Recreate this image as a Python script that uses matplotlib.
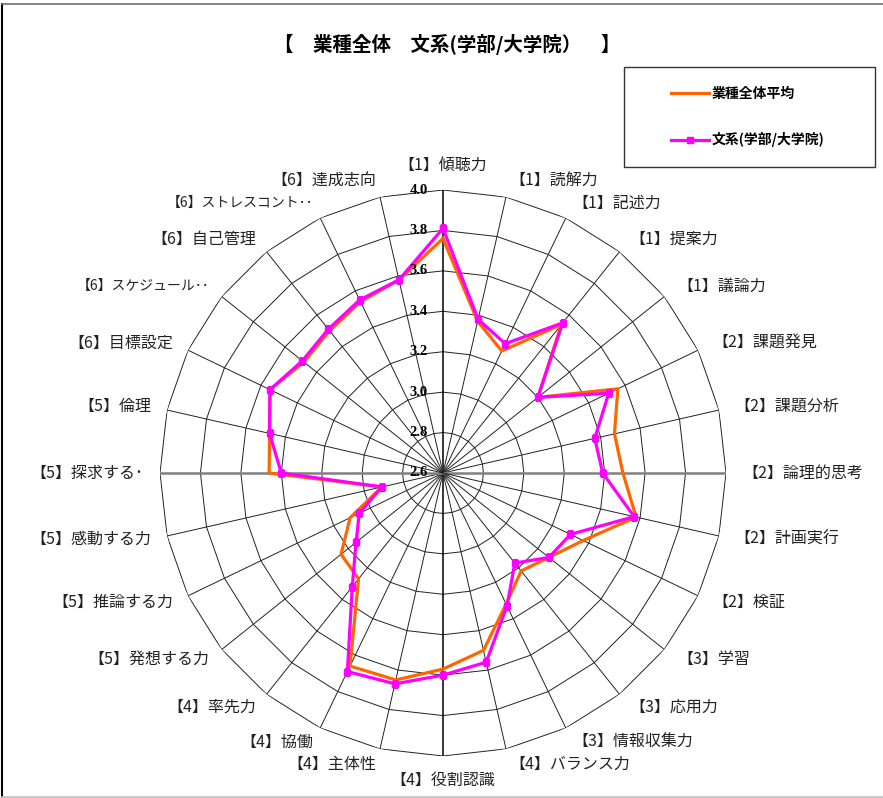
import numpy as np
import matplotlib.pyplot as plt
from matplotlib.lines import Line2D
from matplotlib.patches import Rectangle

plt.rcParams['font.family'] = ['Noto Sans CJK JP', 'DejaVu Sans']

title = '【　業種全体　文系(学部/大学院）　】'
cats = ['【1】傾聴力', '【1】読解力', '【1】記述力', '【1】提案力', '【1】議論力',
        '【2】課題発見', '【2】課題分析', '【2】論理的思考', '【2】計画実行', '【2】検証',
        '【3】学習', '【3】応用力', '【3】情報収集力',
        '【4】バランス力', '【4】役割認識', '【4】主体性', '【4】協働', '【4】率先力',
        '【5】発想する力', '【5】推論する力', '【5】感動する力', '【5】探求する･', '【5】倫理',
        '【6】目標設定', '【6】スケジュール･･', '【6】自己管理', '【6】ストレスコント･･', '【6】達成志向']
small_labels = ['【6】スケジュール･･', '【6】ストレスコント･･']

avg_name = '業種全体平均'
avg_vals = [3.76, 3.37, 3.27, 3.54, 3.20, 3.56, 3.47, 3.49, 3.58, 3.37,
            3.27, 3.22, 3.32, 3.50, 3.57, 3.65, 3.66, 3.27, 3.245, 3.11,
            2.91, 3.46, 3.48, 3.55, 3.48, 3.50, 3.54, 3.58]
bun_name = '文系(学部/大学院)'
bun_vals = [3.81, 3.38, 3.31, 3.55, 3.20, 3.51, 3.37, 3.39, 3.57, 3.30,
            3.27, 3.17, 3.33, 3.56, 3.60, 3.67, 3.69, 3.32, 3.15, 3.06,
            2.91, 3.40, 3.48, 3.55, 3.49, 3.51, 3.55, 3.58]
rings = [2.6, 2.8, 3.0, 3.2, 3.4, 3.6, 3.8, 4.0]

W, H = 883, 798
fig = plt.figure(figsize=(W / 100, H / 100), dpi=100)

# figure border (left black, top/bottom grey)
fig.add_artist(Line2D([2 / W, 2 / W], [1 - 4 / H, 1 / H], color='black', lw=1.5, transform=fig.transFigure))
fig.add_artist(Line2D([2 / W, 1], [1 - 4 / H, 1 - 4 / H], color='#707070', lw=1.2, transform=fig.transFigure))
fig.add_artist(Line2D([2 / W, 1], [1.5 / H, 1.5 / H], color='#c0c0c0', lw=1.2, transform=fig.transFigure))

cx, cy, R = 443, 473, 283
ax = fig.add_axes([(cx - R) / W, (H - cy - R) / H, 2 * R / W, 2 * R / H], projection='polar')
ax.set_theta_zero_location('N')
ax.set_theta_direction(-1)
ax.set_ylim(2.6, 4.0)
ax.grid(False)
ax.spines['polar'].set_visible(False)
ax.set_xticks([])
ax.set_yticks([])

n = len(cats)
theta = np.arange(n) * 2 * np.pi / n
tclosed = np.append(theta, theta[0])

# polygon rings
for v in rings[1:]:
    ax.plot(tclosed, [v] * (n + 1), color='#222222', lw=0.7, zorder=1)
# spokes
for i, t in enumerate(theta):
    if i in (7, 21):
        ax.plot([t, t], [2.6, 4.0], color='#808080', lw=1.8, zorder=1)
    elif i in (0, 14):
        ax.plot([t, t], [2.6, 4.0], color='black', lw=1.1, zorder=1)
    else:
        ax.plot([t, t], [2.6, 4.0], color='#222222', lw=0.7, zorder=1)

l1, = ax.plot(tclosed, avg_vals + avg_vals[:1], color='#FF6600', lw=2.3, zorder=3, label=avg_name)
l2, = ax.plot(tclosed, bun_vals + bun_vals[:1], color='#FF00FF', lw=2.3, marker='s', ms=4.5,
              zorder=4, label=bun_name)

# radial tick labels
for v in rings:
    ax.annotate(f'{v:.1f}', xy=(0, v), xytext=(-11, 0), textcoords='offset points',
                ha='right', va='center', fontsize=10.5, fontweight='bold',
                family='Liberation Serif', zorder=5)

# category labels
for t, lab in zip(theta, cats):
    s, c = np.sin(t), np.cos(t)
    ha = 'center' if abs(s) < 0.05 else ('left' if s > 0 else 'right')
    if c > 0.99:
        va = 'bottom'
    elif c < -0.99:
        va = 'top'
    else:
        va = 'center'
    fs = 10 if lab in small_labels else 11.5
    ax.text(t, 4.08, lab, ha=ha, va=va, fontsize=fs, color='#222222')

fig.text(447 / W, 1 - 44 / H, title, ha='center', va='center', fontsize=14, fontweight='bold')

# legend
fig.add_artist(Rectangle((624 / W, 1 - 167 / H), 251 / W, 100 / H, fill=False,
                         edgecolor='#333333', lw=1.0, transform=fig.transFigure))
fig.legend(handles=[l1, l2], loc='center', bbox_to_anchor=(748 / W, 1 - 117 / H),
           frameon=False, prop={'weight': 'bold', 'size': 10}, labelspacing=2.3,
           handlelength=2.7, handletextpad=0.25)

fig.savefig('out.png', dpi=100)
